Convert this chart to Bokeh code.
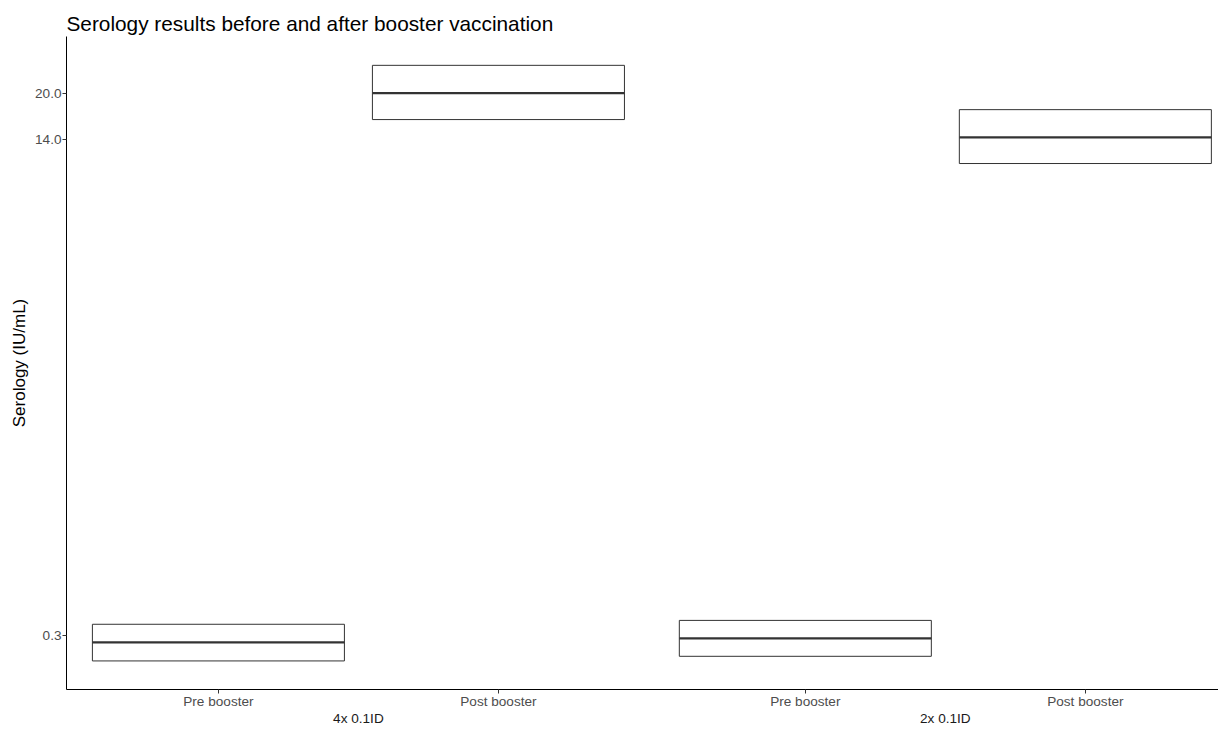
from bokeh.plotting import figure
from bokeh.models import (ColumnDataSource, Range1d, LinearAxis, FixedTicker,
                          NumeralTickFormatter)
from bokeh.embed import file_html
from bokeh.resources import INLINE

# ---- data ----
groups = ["4x 0.1ID", "2x 0.1ID"]
timepoints = ["Pre booster", "Post booster"]
lower = [0.247, 16.3, 0.256, 11.6]
median = [0.285, 20.0, 0.294, 14.2]
upper = [0.328, 24.8, 0.338, 17.6]
y_ticks = [0.3, 14.0, 20.0]

title_text = "Serology results before and after booster vaccination"
y_title = "Serology (IU/mL)"

# ---- layout parameters ----
group_gap = 0.096
box_width = 0.9
FONT = "Liberation Sans"

xs, labels = [], []
for gi, g in enumerate(groups):
    for ti, t in enumerate(timepoints):
        xs.append(gi * (len(timepoints) + group_gap) + ti)
        labels.append(t)
group_centers = []
n = len(timepoints)
for gi in range(len(groups)):
    seg = xs[gi * n:(gi + 1) * n]
    group_centers.append(sum(seg) / len(seg))

src = ColumnDataSource(dict(
    x=xs, lower=lower, upper=upper, median=median,
    x0=[x - box_width / 2 for x in xs], x1=[x + box_width / 2 for x in xs],
))

p = figure(width=1218, height=728, output_backend="svg", toolbar_location=None,
           y_axis_type="log", x_axis_type=None,
           x_range=Range1d(-0.5425, 3.5715), y_range=Range1d(0.198, 31.0),
           min_border_left=66, min_border_right=0, min_border_top=36,
           min_border_bottom=10, title=title_text)

p.background_fill_color = "white"
p.border_fill_color = "white"
p.outline_line_color = None
p.grid.visible = False

p.title.text_font = FONT
p.title.text_font_size = "20.8px"
p.title.text_font_style = "normal"
p.title.text_color = "black"
p.title.align = "left"
p.title.offset = 0
p.title.standoff = 4

# boxes
p.quad(left="x0", right="x1", bottom="lower", top="upper", source=src,
       fill_color="white", line_color="#333333", line_width=1)
p.segment(x0="x0", x1="x1", y0="median", y1="median", source=src,
          line_color="#333333", line_width=2.2)

# y axis
ya = p.yaxis[0]
ya.ticker = FixedTicker(ticks=y_ticks, minor_ticks=[])
ya.formatter = NumeralTickFormatter(format="0.0")
ya.axis_label = y_title
ya.axis_label_text_font = FONT
ya.axis_label_text_font_size = "17px"
ya.axis_label_text_font_style = "normal"
ya.axis_label_text_color = "black"
ya.axis_label_standoff = 3
ya.major_label_text_font = FONT
ya.major_label_text_font_size = "13.6px"
ya.major_label_text_color = "#4D4D4D"
ya.major_label_standoff = 1
ya.major_tick_out = 4
ya.major_tick_in = 0
ya.major_tick_line_color = "#333333"
ya.axis_line_color = "black"
ya.axis_line_width = 1

# x axis: timepoints
xa = LinearAxis(ticker=FixedTicker(ticks=xs, minor_ticks=[]),
                major_label_overrides={x: l for x, l in zip(xs, labels)})
xa.major_label_text_font = FONT
xa.major_label_text_font_size = "13.6px"
xa.major_label_text_color = "#4D4D4D"
xa.major_label_standoff = 0
xa.major_tick_out = 4
xa.major_tick_in = 0
xa.major_tick_line_color = "#333333"
xa.axis_line_color = "black"
xa.axis_line_width = 1
p.add_layout(xa, "below")

# x axis: groups
ga = LinearAxis(ticker=FixedTicker(ticks=group_centers, minor_ticks=[]),
                major_label_overrides={x: g for x, g in zip(group_centers, groups)})
ga.major_label_text_font = FONT
ga.major_label_text_font_size = "13.6px"
ga.major_label_text_color = "#1A1A1A"
ga.major_label_standoff = -1
ga.major_tick_out = 0
ga.major_tick_in = 0
ga.major_tick_line_color = None
ga.axis_line_color = None
p.add_layout(ga, "below")

open("out.html", "w").write(file_html(p, INLINE))
